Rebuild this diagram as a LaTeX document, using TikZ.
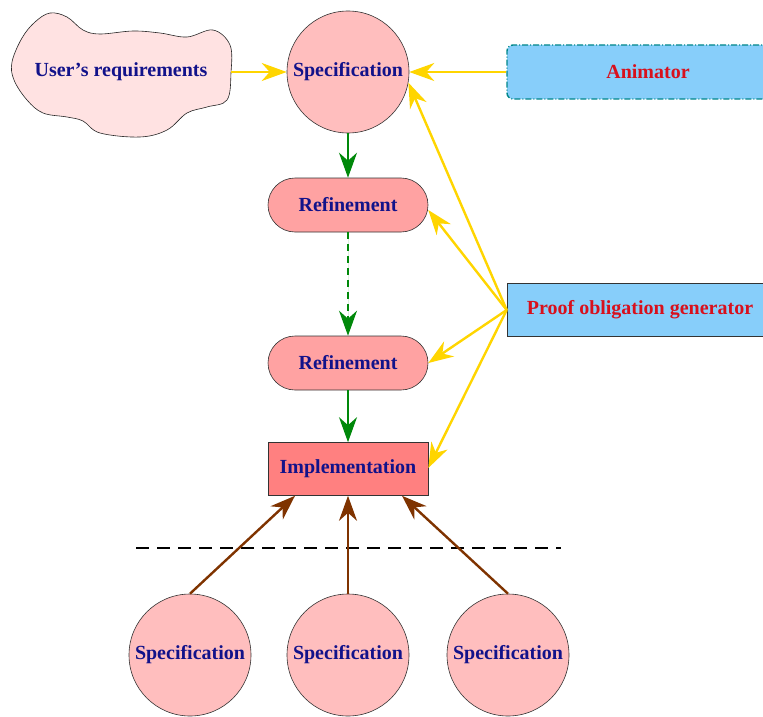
\documentclass[tikz,border=0pt]{standalone}
\usepackage{fontspec}
\setmainfont{Liberation Serif}
\usetikzlibrary{arrows.meta,shapes.misc}
\definecolor{navytxt}{HTML}{12128A}
\definecolor{redtxt}{HTML}{D8101C}
\definecolor{cloudfill}{HTML}{FFE2E2}
\definecolor{specfill}{HTML}{FFBEBE}
\definecolor{reffill}{HTML}{FFA2A2}
\definecolor{implfill}{HTML}{FF8080}
\definecolor{bluefill}{HTML}{87CEFA}
\definecolor{tealline}{HTML}{00878A}
\definecolor{yel}{HTML}{FFD500}
\definecolor{grn}{HTML}{00880A}
\definecolor{brn}{HTML}{7F3300}
\tikzset{
  lbl/.style={font=\fontsize{20}{24}\selectfont\bfseries, text=navytxt},
  rlbl/.style={font=\fontsize{20}{24}\selectfont\bfseries, text=redtxt},
  specnode/.style={circle, draw=black!80, line width=0.6pt, fill=specfill, minimum size=122pt, inner sep=0pt, lbl},
  refnode/.style={rounded rectangle, draw=black!80, line width=0.6pt, fill=reffill, minimum width=160pt, minimum height=54pt, inner sep=0pt, lbl},
  implnode/.style={rectangle, draw=black!80, line width=0.6pt, fill=implfill, minimum width=160pt, minimum height=53pt, inner sep=0pt, lbl},
  tip/.style={-{Stealth[length=25pt,width=18pt,inset=8pt]}},
  yarr/.style={tip, draw=yel, fill=yel, line width=2.4pt},
  garr/.style={tip, draw=grn, fill=grn, line width=1.8pt},
  barr/.style={tip, draw=brn, fill=brn, line width=2.4pt},
}
\begin{document}
\begin{tikzpicture}[x=1pt,y=-1pt]
\useasboundingbox (0,0) rectangle (763,717);
\clip (0,0) rectangle (763,717);
% cloud
\draw[fill=cloudfill, draw=black!85, line width=0.6pt] plot[smooth cycle, tension=0.6] coordinates {
 (12,62) (22,38) (35,22) (50,13) (67,17) (83,30) (100,34) (133,31) (160,33) (187,37) (213,30) (230,45) (231,73) (227,100) (207,107) (187,113) (167,130) (140,137) (100,133) (83,121) (67,117) (43,113) (27,100) (14,80)};
\node[lbl, minimum width=220pt, minimum height=40pt, inner sep=0pt] (req) at (121,72) {User’s requirements};
% main column
\node[specnode] (spec) at (348,72) {Specification};
\node[refnode] (ref1) at (348,205) {Refinement};
\node[refnode] (ref2) at (348,363) {Refinement};
\node[implnode] (impl) at (348,469) {Implementation};
% blue boxes
\node[rectangle, rounded corners=6pt, draw=tealline, line width=1.4pt, dash pattern=on 6pt off 2pt on 1pt off 2pt, fill=bluefill, minimum width=280pt, minimum height=54pt, inner sep=0pt] (anim) at (647,72) {};
\node[rlbl] (animtxt) at (648,72) {Animator};
\node[rectangle, draw=black!80, line width=0.6pt, fill=bluefill, minimum width=280pt, minimum height=53pt, inner sep=0pt] (pog) at (647,310) {};
\node[rlbl] (pogtxt) at (640,310) {Proof obligation generator};
% bottom specs
\node[specnode] (s1) at (190,655) {Specification};
\node[specnode] (s2) at (348,655) {Specification};
\node[specnode] (s3) at (508,655) {Specification};
% dashed separator
\coordinate (dl) at (136,548);
\coordinate (dr) at (561,548);
\draw[black, line width=1.3pt, dash pattern=on 13pt off 8pt] (dl) -- (dr);
% yellow arrows
\draw[yarr] (req.east) -- (spec.west);
\draw[yarr] (anim.west) -- (spec.east);
\draw[yarr] (pog.west) -- (spec.-10);
\draw[yarr] (pog.west) -- ([yshift=-5pt]ref1.east);
\draw[yarr] (pog.west) -- (ref2.east);
\draw[yarr] (pog.west) -- ([yshift=1pt]impl.east);
% green arrows
\draw[garr] (spec.south) -- (ref1.north);
\draw[garr, dash pattern=on 7pt off 5pt] (ref1.south) -- (ref2.north);
\draw[garr] (ref2.south) -- (impl.north);
% brown arrows
\draw[barr] (s1.north) -- ([xshift=-53pt]impl.south);
\draw[barr] (s2.north) -- (impl.south);
\draw[barr] (s3.north) -- ([xshift=54pt]impl.south);
\end{tikzpicture}
\end{document}
